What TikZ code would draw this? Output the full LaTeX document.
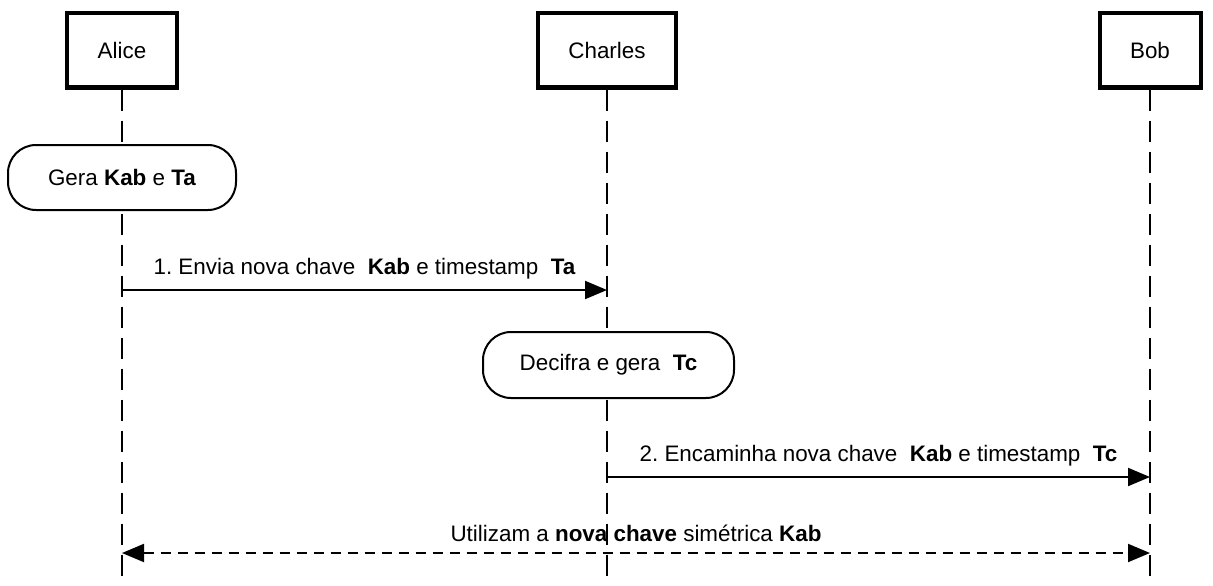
\documentclass[tikz,border=0pt]{standalone}
\usepackage{fontspec}
\setmainfont{Liberation Sans}
\usetikzlibrary{arrows.meta}
\frenchspacing
\begin{document}
\begin{tikzpicture}[x=1pt,y=-1pt,
  every node/.style={font=\fontsize{22.4}{26}\selectfont, inner sep=0pt},
  actor/.style={draw, line width=4pt, minimum width=110pt, minimum height=74pt},
  lifeline/.style={line width=2pt, dash pattern=on 21pt off 10pt},
  activity/.style={draw, line width=2pt, rounded corners=28pt, fill=white},
  msg/.style={line width=2pt, -{Triangle[length=22pt,width=18pt]}},
  reply/.style={line width=2pt, dash pattern=on 10pt off 7pt, {Triangle[length=22pt,width=18pt]}-{Triangle[length=22pt,width=18pt]}},
  lbl/.style={anchor=base}
]
\useasboundingbox (0,0) rectangle (1213,586);
% actors
\node[actor, minimum width=110pt] (alice) at (122,50.5) {Alice};
\node[actor, minimum width=138pt] (charles) at (607,50.5) {Charles};
\node[actor, minimum width=101pt] (bob) at (1150,50.5) {Bob};
% lifeline ends
\coordinate (aend) at (122,580);
\coordinate (cend) at (607,580);
\coordinate (bend) at (1150,580);
\draw[lifeline] (alice.south) -- (aend);
\draw[lifeline] (charles.south) -- (cend);
\draw[lifeline] (bob.south) -- (bend);
% activities
\node[activity, minimum width=228pt, minimum height=65pt] (gera) at (122,177.5) {Gera \textbf{Kab} e \textbf{Ta}};
\node[activity, minimum width=251pt, minimum height=66pt] (decifra) at (608.5,365) {Decifra e gera\ \ \textbf{Tc}};
% messages
\coordinate (m1a) at (122,290);
\coordinate (m1b) at (607,290);
\draw[msg] (m1a) -- node[lbl, above=10pt] {1. Envia nova chave\ \ \textbf{Kab} e timestamp\ \ \textbf{Ta}} (m1b);
\coordinate (m2a) at (607,477);
\coordinate (m2b) at (1150,477);
\draw[msg] (m2a) -- node[lbl, above=10pt] {2. Encaminha nova chave\ \ \textbf{Kab} e timestamp\ \ \textbf{Tc}} (m2b);
\coordinate (m3a) at (122,553);
\coordinate (m3b) at (1150,553);
\draw[reply] (m3a) -- node[lbl, above=10pt] {Utilizam a \textbf{nova chave} simétrica \textbf{Kab}} (m3b);
\end{tikzpicture}
\end{document}
